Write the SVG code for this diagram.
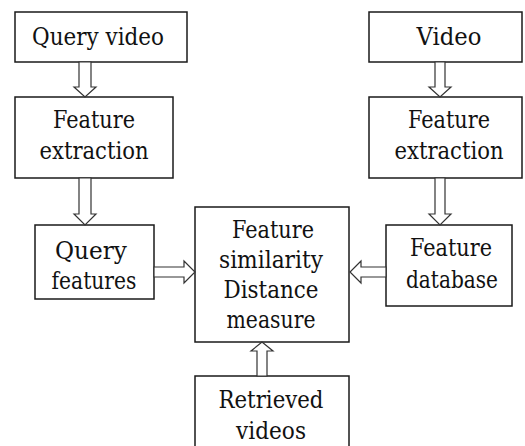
<svg xmlns="http://www.w3.org/2000/svg" width="525" height="446" viewBox="0 0 525 446">
  <style>
    .box { fill: #ffffff; stroke: #1a1a1a; stroke-width: 1.5; }
    .lbl { font-family: 'DejaVu Serif', serif; font-size: 24.5px; fill: #111111; text-anchor: middle; }
    .arrow { fill: #ffffff; stroke: #333333; stroke-width: 1.2; stroke-linejoin: miter; }
  </style>
  <rect width="525" height="446" fill="#ffffff"/>

  <g id="query-video">
    <rect class="box" x="15" y="12" width="172" height="50"/>
    <text class="lbl" x="98" y="45" textLength="132" lengthAdjust="spacingAndGlyphs">Query video</text>
  </g>
  <g id="video">
    <rect class="box" x="369" y="12" width="153" height="50"/>
    <text class="lbl" x="449" y="45" textLength="65" lengthAdjust="spacingAndGlyphs">Video</text>
  </g>
  <g id="feature-extraction-left">
    <rect class="box" x="15" y="97" width="158" height="81"/>
    <text class="lbl" x="94" y="128" textLength="82" lengthAdjust="spacingAndGlyphs">Feature</text>
    <text class="lbl" x="94" y="159" textLength="109" lengthAdjust="spacingAndGlyphs">extraction</text>
  </g>
  <g id="feature-extraction-right">
    <rect class="box" x="369" y="97" width="153" height="81"/>
    <text class="lbl" x="449" y="128" textLength="82" lengthAdjust="spacingAndGlyphs">Feature</text>
    <text class="lbl" x="449" y="159" textLength="109" lengthAdjust="spacingAndGlyphs">extraction</text>
  </g>
  <g id="query-features">
    <rect class="box" x="35" y="225" width="119" height="74"/>
    <text class="lbl" x="91" y="259" textLength="72" lengthAdjust="spacingAndGlyphs">Query</text>
    <text class="lbl" x="94" y="289" textLength="85" lengthAdjust="spacingAndGlyphs">features</text>
  </g>
  <g id="similarity">
    <rect class="box" x="195" y="207" width="154" height="135"/>
    <text class="lbl" x="273" y="238" textLength="82" lengthAdjust="spacingAndGlyphs">Feature</text>
    <text class="lbl" x="271" y="268" textLength="104" lengthAdjust="spacingAndGlyphs">similarity</text>
    <text class="lbl" x="271" y="298" textLength="95" lengthAdjust="spacingAndGlyphs">Distance</text>
    <text class="lbl" x="271" y="328" textLength="89" lengthAdjust="spacingAndGlyphs">measure</text>
  </g>
  <g id="feature-database">
    <rect class="box" x="386" y="225" width="126" height="81"/>
    <text class="lbl" x="451" y="256" textLength="82" lengthAdjust="spacingAndGlyphs">Feature</text>
    <text class="lbl" x="452" y="288" textLength="92" lengthAdjust="spacingAndGlyphs">database</text>
  </g>
  <g id="retrieved-videos">
    <rect class="box" x="195" y="376" width="154" height="90"/>
    <text class="lbl" x="271" y="408" textLength="105" lengthAdjust="spacingAndGlyphs">Retrieved</text>
    <text class="lbl" x="271" y="439" textLength="70" lengthAdjust="spacingAndGlyphs">videos</text>
  </g>

  <g id="connectors">
    <!-- hollow block arrows -->
    <path class="arrow" d="M79,62 H91 V87 H96 L85,97 L74,87 H79 Z"/>
    <path class="arrow" d="M79,178 H91 V214 H96 L85,225 L74,214 H79 Z"/>
    <path class="arrow" d="M435,62 H445 V87 H451 L440,97 L429,87 H435 Z"/>
    <path class="arrow" d="M435,178 H445 V214 H451 L440,225 L429,214 H435 Z"/>
    <path class="arrow" d="M154,267 H184 V261 L195,272 L184,283 V277 H154 Z"/>
    <path class="arrow" d="M386,267 H361 V261 L350,272 L361,283 V277 H386 Z"/>
    <path class="arrow" d="M257,376 V351 H251 L262,342 L273,351 H267 V376 Z"/>
  </g>
</svg>
